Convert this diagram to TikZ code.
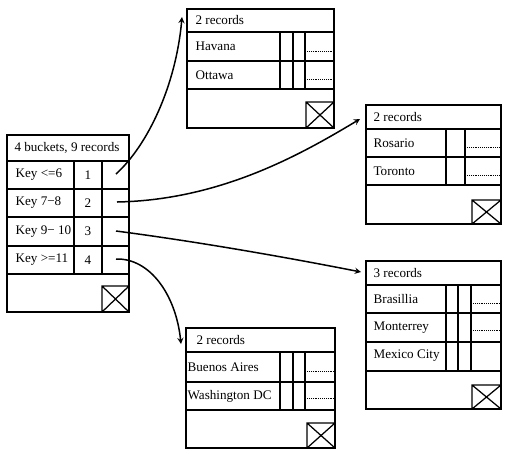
\documentclass[tikz,border=0pt]{standalone}
\usepackage{fontspec}
\setmainfont{Liberation Serif}
\begin{document}
\begin{tikzpicture}[x = .8pt, y = -.8pt, line width = 1pt,
  txt/.style = {anchor = west, inner sep = 0pt, font = \fontsize{10.5}{12}\selectfont},
  num/.style = {inner sep = 0pt, font = \fontsize{10.5}{12}\selectfont},
  ptr/.style = {->, >=stealth, line width = 1.2pt},
  dots/.style = {densely dotted, line width = .5pt}]
        \useasboundingbox (0,0) rectangle (505,453);
        % bucket table
        \draw (7,135) rectangle (129,312);
        \foreach \y in {161,189,217,246,274} \draw (7,\y) -- (129,\y);
        \draw (74,161) -- (74,274);
        \draw (102,161) -- (102,274);
        \draw (102,286) rectangle (129,312) (102,286) -- (129,312) (102,312) -- (129,286);
        \node[num] (bhead) at (67,148) {4 buckets, 9 records};
        \node[txt] (k1) at (15,175) {Key <=6};
        \node[txt] (k2) at (15,203) {Key 7−8};
        \node[txt] (k3) at (15,231.5) {Key 9− 10};
        \node[txt] (k4) at (15,260) {Key >=11};
        \node[num] (n1) at (88,175) {1};
        \node[num] (n2) at (88,203) {2};
        \node[num] (n3) at (88,231.5) {3};
        \node[num] (n4) at (88,260) {4};
        \coordinate (p1) at (116,174);
        \coordinate (p2) at (117,202);
        \coordinate (p3) at (116,231);
        \coordinate (p4) at (116,259);
        % bucket 1
        \draw (187,9) rectangle (334,128);
        \foreach \y in {32,61,89} \draw (187,\y) -- (334,\y);
        \foreach \x in {280,293,305} \draw (\x,32) -- (\x,89);
        \draw (306,102) rectangle (334,128) (306,102) -- (334,128) (306,128) -- (334,102);
        \draw[dots] (307,51) -- (334,51) (307,79) -- (334,79);
        \node[txt] (h1) at (195,20) {2 records};
        \node[txt] (havana) at (195,46.5) {Havana};
        \node[txt] (ottawa) at (195,75) {Ottawa};
        \coordinate (t1) at (182,17);
        % bucket 2
        \draw (366,105) rectangle (501,224);
        \foreach \y in {129,157,185} \draw (366,\y) -- (501,\y);
        \foreach \x in {446,465} \draw (\x,129) -- (\x,185);
        \draw (472,200) rectangle (501,224) (472,200) -- (501,224) (472,224) -- (501,200);
        \draw[dots] (467,147) -- (501,147) (467,175) -- (501,175);
        \node[txt] (h2) at (373,117) {2 records};
        \node[txt] (rosario) at (373,143) {Rosario};
        \node[txt] (toronto) at (373,171) {Toronto};
        \coordinate (t2) at (360,119);
        % bucket 3
        \draw (366,261) rectangle (501,409);
        \foreach \y in {285,313,342,371} \draw (366,\y) -- (501,\y);
        \foreach \x in {446,458,471} \draw (\x,285) -- (\x,371);
        \draw (472,385) rectangle (501,409) (472,385) -- (501,409) (472,409) -- (501,385);
        \draw[dots] (473,303) -- (501,303) (473,330) -- (501,330);
        \node[txt] (h3) at (373,273) {3 records};
        \node[txt] (brasilia) at (373,299) {Brasillia};
        \node[txt] (monterrey) at (373,327.5) {Monterrey};
        \node[txt] (mexico) at (373,356) {Mexico City};
        \coordinate (t3) at (361,272);
        % bucket 4
        \draw (186,328) rectangle (335,448);
        \foreach \y in {352,382,410} \draw (186,\y) -- (335,\y);
        \foreach \x in {280,293,305} \draw (\x,352) -- (\x,410);
        \draw (307,423) rectangle (335,448) (307,423) -- (335,448) (307,448) -- (335,423);
        \draw[dots] (307,371) -- (335,371) (307,398) -- (335,398);
        \node[txt] (h4) at (196,340) {2 records};
        \node[txt] (buenos) at (187,367) {Buenos Aires};
        \node[txt] (washington) at (187,396) {Washington DC};
        \coordinate (t4) at (181,344);
        % pointers
        \draw[ptr] (p1) .. controls (148,145) and (176,85) .. (t1);
        \draw[ptr] (p2) .. controls (220,200) and (300,155) .. (t2);
        \draw[ptr] (p3) .. controls (200,242) and (290,258) .. (t3);
        \draw[ptr] (p4) .. controls (150,258) and (176,295) .. (t4);
\end{tikzpicture}
\end{document}
